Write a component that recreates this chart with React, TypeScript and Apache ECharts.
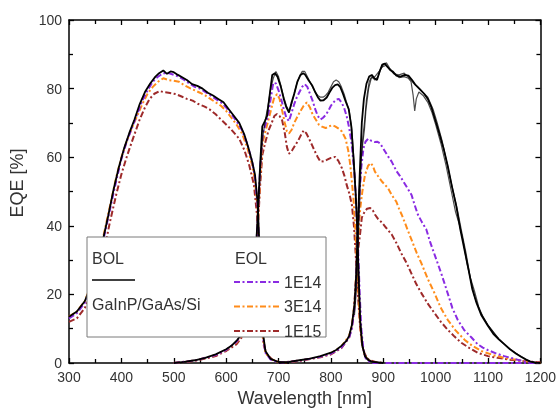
import React, { useEffect, useRef } from "react";
import * as echarts from "echarts";

type P = [number, number];

// ---------- BOL (black) ----------
const BOL_TOP: P[] = [
  [300, 13.5], [315, 15], [330, 18], [345, 23.5], [355, 29], [365, 36], [375, 43], [385, 50.5], [395, 57],
  [405, 62.5], [415, 67], [425, 71], [435, 75.5], [445, 79], [455, 81.5], [465, 83.5], [472, 84.5], [480, 85.3],
  [487, 84.3], [494, 85], [500, 84.8], [508, 84], [516, 83.3], [525, 82.5], [535, 81.3], [545, 80.8], [555, 80],
  [565, 78.8], [575, 78], [585, 77], [595, 76], [605, 74], [615, 72], [625, 70], [635, 66.5], [643, 62.5],
  [650, 58.5], [655, 55], [660, 47], [663, 36], [666, 21], [670, 9], [675, 3.5], [685, 1.2], [700, 0.3], [720, 0],
];
const BOL_MID: P[] = [
  [500, 0], [520, 0.3], [540, 0.8], [560, 1.5], [580, 2.5], [600, 4], [610, 5], [620, 6.5], [630, 8.5], [640, 11],
  [645, 14], [650, 19], [655, 28], [660, 42], [665, 58], [669, 69], [674, 70.5], [678, 72], [683, 78], [688, 84],
  [693, 84.5], [698, 83.5], [704, 80.8], [710, 77], [715, 74.5], [720, 73], [725, 76], [730, 78.5], [736, 82],
  [742, 84], [747, 84.5], [751, 84], [757, 82.5], [764, 81], [770, 79], [775, 77.5], [780, 76.5], [786, 76.6],
  [792, 77.4], [797, 78.8], [803, 80.3], [808, 81], [813, 81.2], [818, 80.4], [823, 78.5], [828, 76.3],
  [834, 74], [839, 69], [843, 60], [847, 50], [850, 40], [853, 25], [856, 12], [860, 5], [865, 2], [870, 1],
  [880, 0.3], [900, 0],
];
const BOL_MID_B: P[] = [
  [660, 40], [665, 56], [670, 66], [675, 71], [680, 75], [685, 80], [690, 83], [695, 85], [700, 83.5], [705, 80.5],
  [710, 77.5], [715, 75], [720, 73.5], [725, 75.5], [730, 78.5], [735, 81.5], [740, 83.5], [745, 85], [750, 85],
  [755, 83.5], [760, 82], [765, 80.5], [770, 79], [775, 78], [780, 77.5], [785, 77.5], [790, 78], [795, 79],
  [800, 80.5], [805, 82], [810, 82.5], [815, 82], [820, 80.5], [825, 78.5], [830, 76], [835, 73.5], [840, 68],
  [845, 57], [850, 42], [853, 27], [856, 13], [860, 5], [866, 2], [875, 0.5], [900, 0],
];
const BOL_SI: P[] = [
  [700, 0], [720, 0.3], [740, 0.8], [760, 1.3], [780, 2], [800, 3], [810, 3.8], [820, 5], [830, 6.5], [835, 8],
  [840, 11], [845, 17], [848, 25], [851, 38], [855, 55], [859, 70], [863, 77], [868, 81.5], [873, 83.5],
  [878, 84], [883, 83], [888, 82.5], [893, 85], [898, 87], [903, 87.3], [908, 86.3], [913, 85.5], [918, 85],
  [925, 83.8], [933, 83.5], [941, 84], [948, 83.8], [955, 82.5], [962, 81], [970, 79.8], [978, 78.5], [985, 77],
  [992, 74.5], [1000, 70.5], [1008, 66.4], [1016, 62], [1023, 57.5], [1031, 51.5], [1039, 46], [1047, 39],
  [1055, 33], [1063, 27], [1070, 21.5], [1078, 17.5], [1087, 14], [1099, 11], [1110, 8.5], [1120, 7],
  [1131, 5.5], [1142, 4], [1153, 2.8], [1163, 1.8], [1172, 1], [1181, 0.4], [1190, 0.1], [1200, 0],
];
const BOL_SI_B: P[] = [
  [845, 14], [849, 22], [852, 35], [855, 47], [858, 60], [861, 66], [864, 70], [868, 77], [873, 82], [878, 83.5],
  [884, 82.5], [890, 83.5], [896, 86], [900, 86.5], [906, 86.8], [912, 85.5], [920, 84.5], [930, 83.2],
  [940, 83.5], [948, 83], [953, 82], [957, 78], [960, 73.5], [963, 77], [968, 79], [976, 78], [985, 76],
  [993, 73], [1000, 69.5], [1010, 64], [1020, 57.5], [1030, 50], [1038, 44], [1046, 40], [1052, 36], [1060, 29],
  [1068, 23.5], [1075, 19], [1085, 15], [1099, 11.3], [1120, 7], [1140, 4.2], [1160, 2.2], [1180, 0.5], [1200, 0],
];
const BOL_SI_C: P[] = [
  [850, 35], [854, 50], [857, 58], [860, 63], [864, 68], [867, 74], [872, 80], [877, 83], [884, 83.5], [892, 85],
  [900, 87], [906, 87.5], [912, 86], [920, 84.3], [930, 84], [940, 84.5], [950, 83], [958, 81.5], [966, 80.5],
  [975, 79], [985, 77.5], [995, 74], [1003, 70], [1012, 65], [1022, 58], [1032, 51], [1041, 45], [1050, 38],
  [1058, 32], [1066, 25], [1074, 21], [1082, 16.5], [1090, 13.5], [1100, 11], [1120, 7.2],
];

// ---------- EOL 1E14 (purple) ----------
const E14_TOP: P[] = [
  [300, 13], [315, 14.5], [330, 17.5], [345, 23], [360, 32], [370, 39], [380, 46], [390, 53], [400, 59.5],
  [410, 64.5], [420, 68.5], [430, 72.5], [440, 76.5], [450, 79.5], [460, 82], [470, 83.5], [480, 84.5],
  [490, 84.5], [500, 84], [510, 83.5], [520, 82.5], [530, 81.5], [540, 80.5], [550, 80], [560, 79], [570, 78],
  [580, 77], [590, 76], [600, 74.5], [610, 72.5], [620, 70.5], [630, 68], [640, 64], [650, 58.5], [655, 54],
  [660, 46], [663, 34], [666, 20], [670, 8], [675, 3], [685, 1], [700, 0.2], [720, 0],
];
const E14_MID: P[] = [
  [500, 0], [540, 0.7], [580, 2.3], [600, 3.8], [620, 6.2], [640, 10.5], [645, 13.5], [650, 18.5], [655, 27],
  [660, 41], [665, 57], [670, 67], [675, 69.5], [680, 72], [685, 77], [690, 81.7], [695, 81.5], [700, 79.5],
  [705, 77], [710, 74], [715, 71.5], [720, 70.5], [725, 73], [730, 75.5], [735, 77.5], [740, 79], [745, 80.5],
  [750, 81.3], [755, 80.5], [760, 78.5], [765, 76.5], [770, 74], [775, 72], [780, 71], [785, 71.5], [790, 72.3],
  [795, 73.5], [800, 75], [805, 76], [810, 76.8], [815, 77], [820, 76], [825, 74.5], [830, 72], [835, 68.5],
  [840, 63.5], [845, 55], [848, 47], [852, 33], [855, 20], [858, 10], [862, 4], [866, 1.5], [872, 0.5],
  [880, 0], [1200, 0],
];
const E14_SI: P[] = [
  [700, 0], [740, 0.7], [780, 1.8], [800, 2.7], [820, 4.5], [835, 7.5], [840, 10], [845, 16], [848, 24],
  [851, 37], [855, 50], [858, 57], [862, 62.5], [866, 64.5], [871, 65.4], [877, 64.8], [884, 64.4], [889, 64.5],
  [894, 64], [900, 62.5], [908, 60.5], [916, 58.7], [925, 56], [932, 54.5], [938, 53], [946, 51], [954, 49],
  [960, 46], [966, 43.3], [974, 41], [982, 39], [990, 35], [997, 32], [1004, 29], [1012, 25.5], [1023, 20.3],
  [1032, 16], [1042, 12.6], [1055, 9.5], [1068, 7.5], [1080, 5.5], [1090, 4.5], [1099, 3.8], [1115, 2.8],
  [1131, 2], [1150, 1.2], [1169, 0.5], [1185, 0.2], [1200, 0],
];

// ---------- EOL 3E14 (orange) ----------
const E314_TOP: P[] = [
  [300, 13.5], [315, 15], [330, 18], [345, 24], [360, 33], [370, 40], [380, 47], [390, 54], [400, 60],
  [410, 64.5], [420, 68.5], [430, 72], [440, 75.5], [450, 78.5], [460, 80.5], [470, 82], [480, 83], [490, 82.5],
  [500, 82.3], [510, 82], [520, 81], [530, 80.2], [540, 79.5], [550, 78.8], [560, 78], [570, 77], [580, 76],
  [590, 75], [600, 73.5], [610, 71.5], [620, 69.5], [630, 67], [640, 63], [650, 57.5], [655, 53], [660, 45],
  [663, 33], [666, 19], [670, 8], [675, 3], [685, 1.2], [700, 0.3], [720, 0],
];
const E314_MID: P[] = [
  [500, 0], [540, 0.7], [580, 2.3], [600, 3.8], [620, 6], [640, 10], [645, 13], [650, 18], [655, 26], [660, 39],
  [665, 54], [670, 64.5], [675, 67.5], [681, 71], [686, 74], [691, 77], [697, 78.4], [702, 77], [707, 73.5],
  [712, 70], [716, 67.5], [720, 66.9], [725, 68], [730, 70], [736, 71.8], [742, 73.5], [748, 75], [754, 76],
  [760, 74.5], [765, 72.5], [771, 71], [777, 69.5], [783, 68.9], [790, 68.5], [796, 69], [802, 69.3], [808, 69],
  [815, 68.3], [821, 67.5], [828, 65.4], [833, 62], [837, 57.7], [843, 48], [847, 38], [851, 25], [855, 13],
  [859, 6], [864, 2.5], [870, 1], [880, 0.3], [890, 0],
];
const E314_SI: P[] = [
  [700, 0], [740, 0.7], [780, 1.8], [800, 2.8], [820, 4.8], [835, 8], [840, 11], [845, 17], [848, 25], [851, 34],
  [854, 41], [856, 45], [860, 50], [865, 54.8], [871, 57.5], [876, 58.3], [880, 57.5], [884, 55.8], [890, 54.5],
  [897, 53], [903, 52], [909, 51], [916, 49], [925, 47], [930, 45], [935, 43.3], [941, 41], [947, 38.6],
  [955, 35.5], [964, 32], [973, 29], [985, 24.5], [998, 20.3], [1010, 16], [1023, 12.6], [1038, 9.5],
  [1055, 6.8], [1070, 5], [1087, 3.5], [1110, 2.3], [1131, 1.5], [1155, 0.9], [1175, 0.5], [1200, 0],
];

// ---------- EOL 1E15 (brown) ----------
const E15_TOP: P[] = [
  [300, 12], [315, 13], [330, 16], [345, 21], [360, 29], [370, 35], [378, 41], [390, 49], [400, 55], [410, 60],
  [420, 64.5], [435, 71], [445, 74.5], [454, 77], [463, 78.5], [473, 79.3], [480, 79], [490, 78.8], [504, 78.4],
  [515, 77.7], [525, 77], [536, 76.5], [547, 75.5], [558, 74.8], [568, 74], [580, 72.5], [590, 71], [599, 69.7],
  [610, 68], [625, 65.4], [635, 62], [644, 57.7], [653, 52], [659, 43], [662, 33], [665, 20], [668, 10],
  [672, 5], [678, 2.5], [688, 1], [700, 0.3], [720, 0],
];
const E15_MID: P[] = [
  [500, 0], [540, 0.6], [580, 2], [600, 3.5], [620, 5.5], [640, 9.5], [645, 12], [650, 17], [655, 25], [660, 38],
  [665, 52], [669, 60.6], [675, 64.5], [681, 67.8], [687, 70], [692, 72], [697, 72.6], [702, 72], [707, 70.7],
  [712, 67], [716, 63], [720, 61], [726, 62], [732, 63.5], [738, 65], [743, 66.5], [748, 67.8], [753, 67],
  [758, 65.5], [764, 63.5], [770, 61.5], [775, 60], [780, 58.7], [786, 58.8], [792, 59.2], [800, 59.8],
  [808, 60.1], [814, 59], [821, 56.8], [826, 54.5], [830, 52], [835, 49.5], [840, 46.2], [844, 40], [848, 30],
  [852, 19], [856, 10], [860, 5], [865, 2.5], [872, 1], [885, 0.3], [900, 0],
];
const E15_SI: P[] = [
  [700, 0], [740, 0.6], [780, 1.7], [800, 2.5], [820, 4.3], [835, 7.5], [840, 10.5], [843, 14], [846, 20],
  [849, 27], [852, 33], [856, 38], [859, 42.4], [864, 44], [869, 45], [875, 45.2], [880, 44.5], [884, 43.3],
  [890, 42], [897, 41], [905, 39.5], [916, 37.5], [925, 35], [935, 31.8], [945, 29], [954, 26], [963, 23],
  [973, 20.3], [985, 17.3], [998, 14.5], [1010, 12], [1023, 9.7], [1036, 7.7], [1049, 5.9], [1065, 4.3],
  [1080, 3], [1100, 2], [1118, 1.5], [1140, 1], [1169, 0.5], [1200, 0.2],
];

const LEGEND_NAMES = ["1E14", "3E14", "1E15"];
const COLORS: Record<string, string> = { "1E14": "#8A2BE2", "3E14": "#FF8C1A", "1E15": "#9E2A2A" };
const FONT = "'Liberation Sans', Arial, sans-serif";
const DASH = [6, 2.5, 2, 2.5];

function eol(name: string, data: P[]) {
  return {
    type: "line",
    name,
    data,
    symbol: "none",
    showSymbol: false,
    silent: true,
    z: 2,
    lineStyle: { color: COLORS[name], width: 2, type: DASH },
    itemStyle: { color: COLORS[name] },
  };
}
function bol(data: P[], width: number, opacity: number) {
  return {
    type: "line",
    name: "BOL",
    data,
    symbol: "none",
    showSymbol: false,
    silent: true,
    z: 3,
    lineStyle: { color: "#000", width, opacity },
    itemStyle: { color: "#000" },
  };
}

const fmt = (v: number) => String(v);

export default function App() {
  const ref = useRef<HTMLDivElement>(null);
  useEffect(() => {
    const chart = echarts.init(ref.current!, null, { renderer: "svg" });
    const option: any = {
      animation: false,
      grid: { left: 69, right: 16, top: 20, bottom: 45 },
      xAxis: [
        {
          type: "value", min: 300, max: 1200, interval: 100, position: "bottom",
          axisLine: { show: true, onZero: false, lineStyle: { color: "#000", width: 1.5 } },
          axisTick: { show: true, inside: true, length: 5, lineStyle: { color: "#000", width: 1.3 } },
          minorTick: { show: true, splitNumber: 2, length: 4, lineStyle: { color: "#000", width: 1.3 } },
          splitLine: { show: false },
          axisLabel: { show: true, fontSize: 14, color: "#333", margin: 7, fontFamily: FONT, formatter: fmt },
          name: "Wavelength [nm]", nameLocation: "middle", nameGap: 26,
          nameTextStyle: { fontSize: 18, color: "#333", fontFamily: FONT },
        },
        {
          type: "value", min: 300, max: 1200, interval: 100, position: "top",
          axisLine: { show: true, onZero: false, lineStyle: { color: "#000", width: 1.5 } },
          axisTick: { show: true, inside: true, length: 5, lineStyle: { color: "#000", width: 1.3 } },
          minorTick: { show: true, splitNumber: 2, length: 4, lineStyle: { color: "#000", width: 1.3 } },
          splitLine: { show: false },
          axisLabel: { show: false },
        },
      ],
      yAxis: [
        {
          type: "value", min: 0, max: 100, interval: 20, position: "left",
          axisLine: { show: true, onZero: false, lineStyle: { color: "#000", width: 1.5 } },
          axisTick: { show: true, inside: true, length: 5, lineStyle: { color: "#000", width: 1.3 } },
          minorTick: { show: true, splitNumber: 2, length: 4, lineStyle: { color: "#000", width: 1.3 } },
          splitLine: { show: false },
          axisLabel: { show: true, fontSize: 14, color: "#333", margin: 7, fontFamily: FONT, formatter: fmt },
          name: "EQE [%]", nameLocation: "middle", nameGap: 43,
          nameTextStyle: { fontSize: 18, color: "#333", fontFamily: FONT, padding: [0, 0, 0, 17] },
        },
        {
          type: "value", min: 0, max: 100, interval: 20, position: "right",
          axisLine: { show: true, onZero: false, lineStyle: { color: "#000", width: 1.5 } },
          axisTick: { show: true, inside: true, length: 5, lineStyle: { color: "#000", width: 1.3 } },
          minorTick: { show: true, splitNumber: 2, length: 4, lineStyle: { color: "#000", width: 1.3 } },
          splitLine: { show: false },
          axisLabel: { show: false },
        },
      ],
      legend: {
        data: LEGEND_NAMES,
        orient: "vertical",
        left: 233,
        top: 274,
        itemWidth: 45,
        itemHeight: 14,
        itemGap: 8.5,
        padding: 0,
        z: 120,
        selectedMode: false,
        itemStyle: { opacity: 0 },
        textStyle: { fontSize: 16, color: "#333", fontFamily: FONT },
      },
      graphic: [
        {
          type: "rect", z: 100,
          shape: { x: 87, y: 237, width: 239, height: 100 },
          style: { fill: "#fff", stroke: "#7a7a7a", lineWidth: 1 },
        },
        {
          type: "text", z: 110, x: 92, y: 258.5,
          style: { text: "BOL", fontSize: 16, fill: "#333", fontFamily: FONT, verticalAlign: "middle" },
        },
        {
          type: "text", z: 110, x: 235, y: 258.5,
          style: { text: "EOL", fontSize: 16, fill: "#333", fontFamily: FONT, verticalAlign: "middle" },
        },
        {
          type: "line", z: 110,
          shape: { x1: 92, y1: 280, x2: 135, y2: 280 },
          style: { stroke: "#000", lineWidth: 1.6 },
        },
        {
          type: "text", z: 110, x: 92, y: 304,
          style: { text: "GaInP/GaAs/Si", fontSize: 16, fill: "#333", fontFamily: FONT, verticalAlign: "middle" },
        },
      ],
      series: [
        eol("1E15", E15_TOP), eol("1E15", E15_MID), eol("1E15", E15_SI),
        eol("3E14", E314_TOP), eol("3E14", E314_MID), eol("3E14", E314_SI),
        eol("1E14", E14_TOP), eol("1E14", E14_MID), eol("1E14", E14_SI),
        bol(BOL_SI_B, 1.2, 0.7), bol(BOL_SI_C, 1.2, 0.7), bol(BOL_MID_B, 1.2, 0.7),
        bol(BOL_TOP, 1.8, 1), bol(BOL_MID, 1.8, 1), bol(BOL_SI, 1.8, 1),
      ],
    };
    chart.setOption(option);
    return () => chart.dispose();
  }, []);
  return <div ref={ref} style={{ position: "fixed", left: 0, top: 0, width: 559, height: 412 }} />;
}
